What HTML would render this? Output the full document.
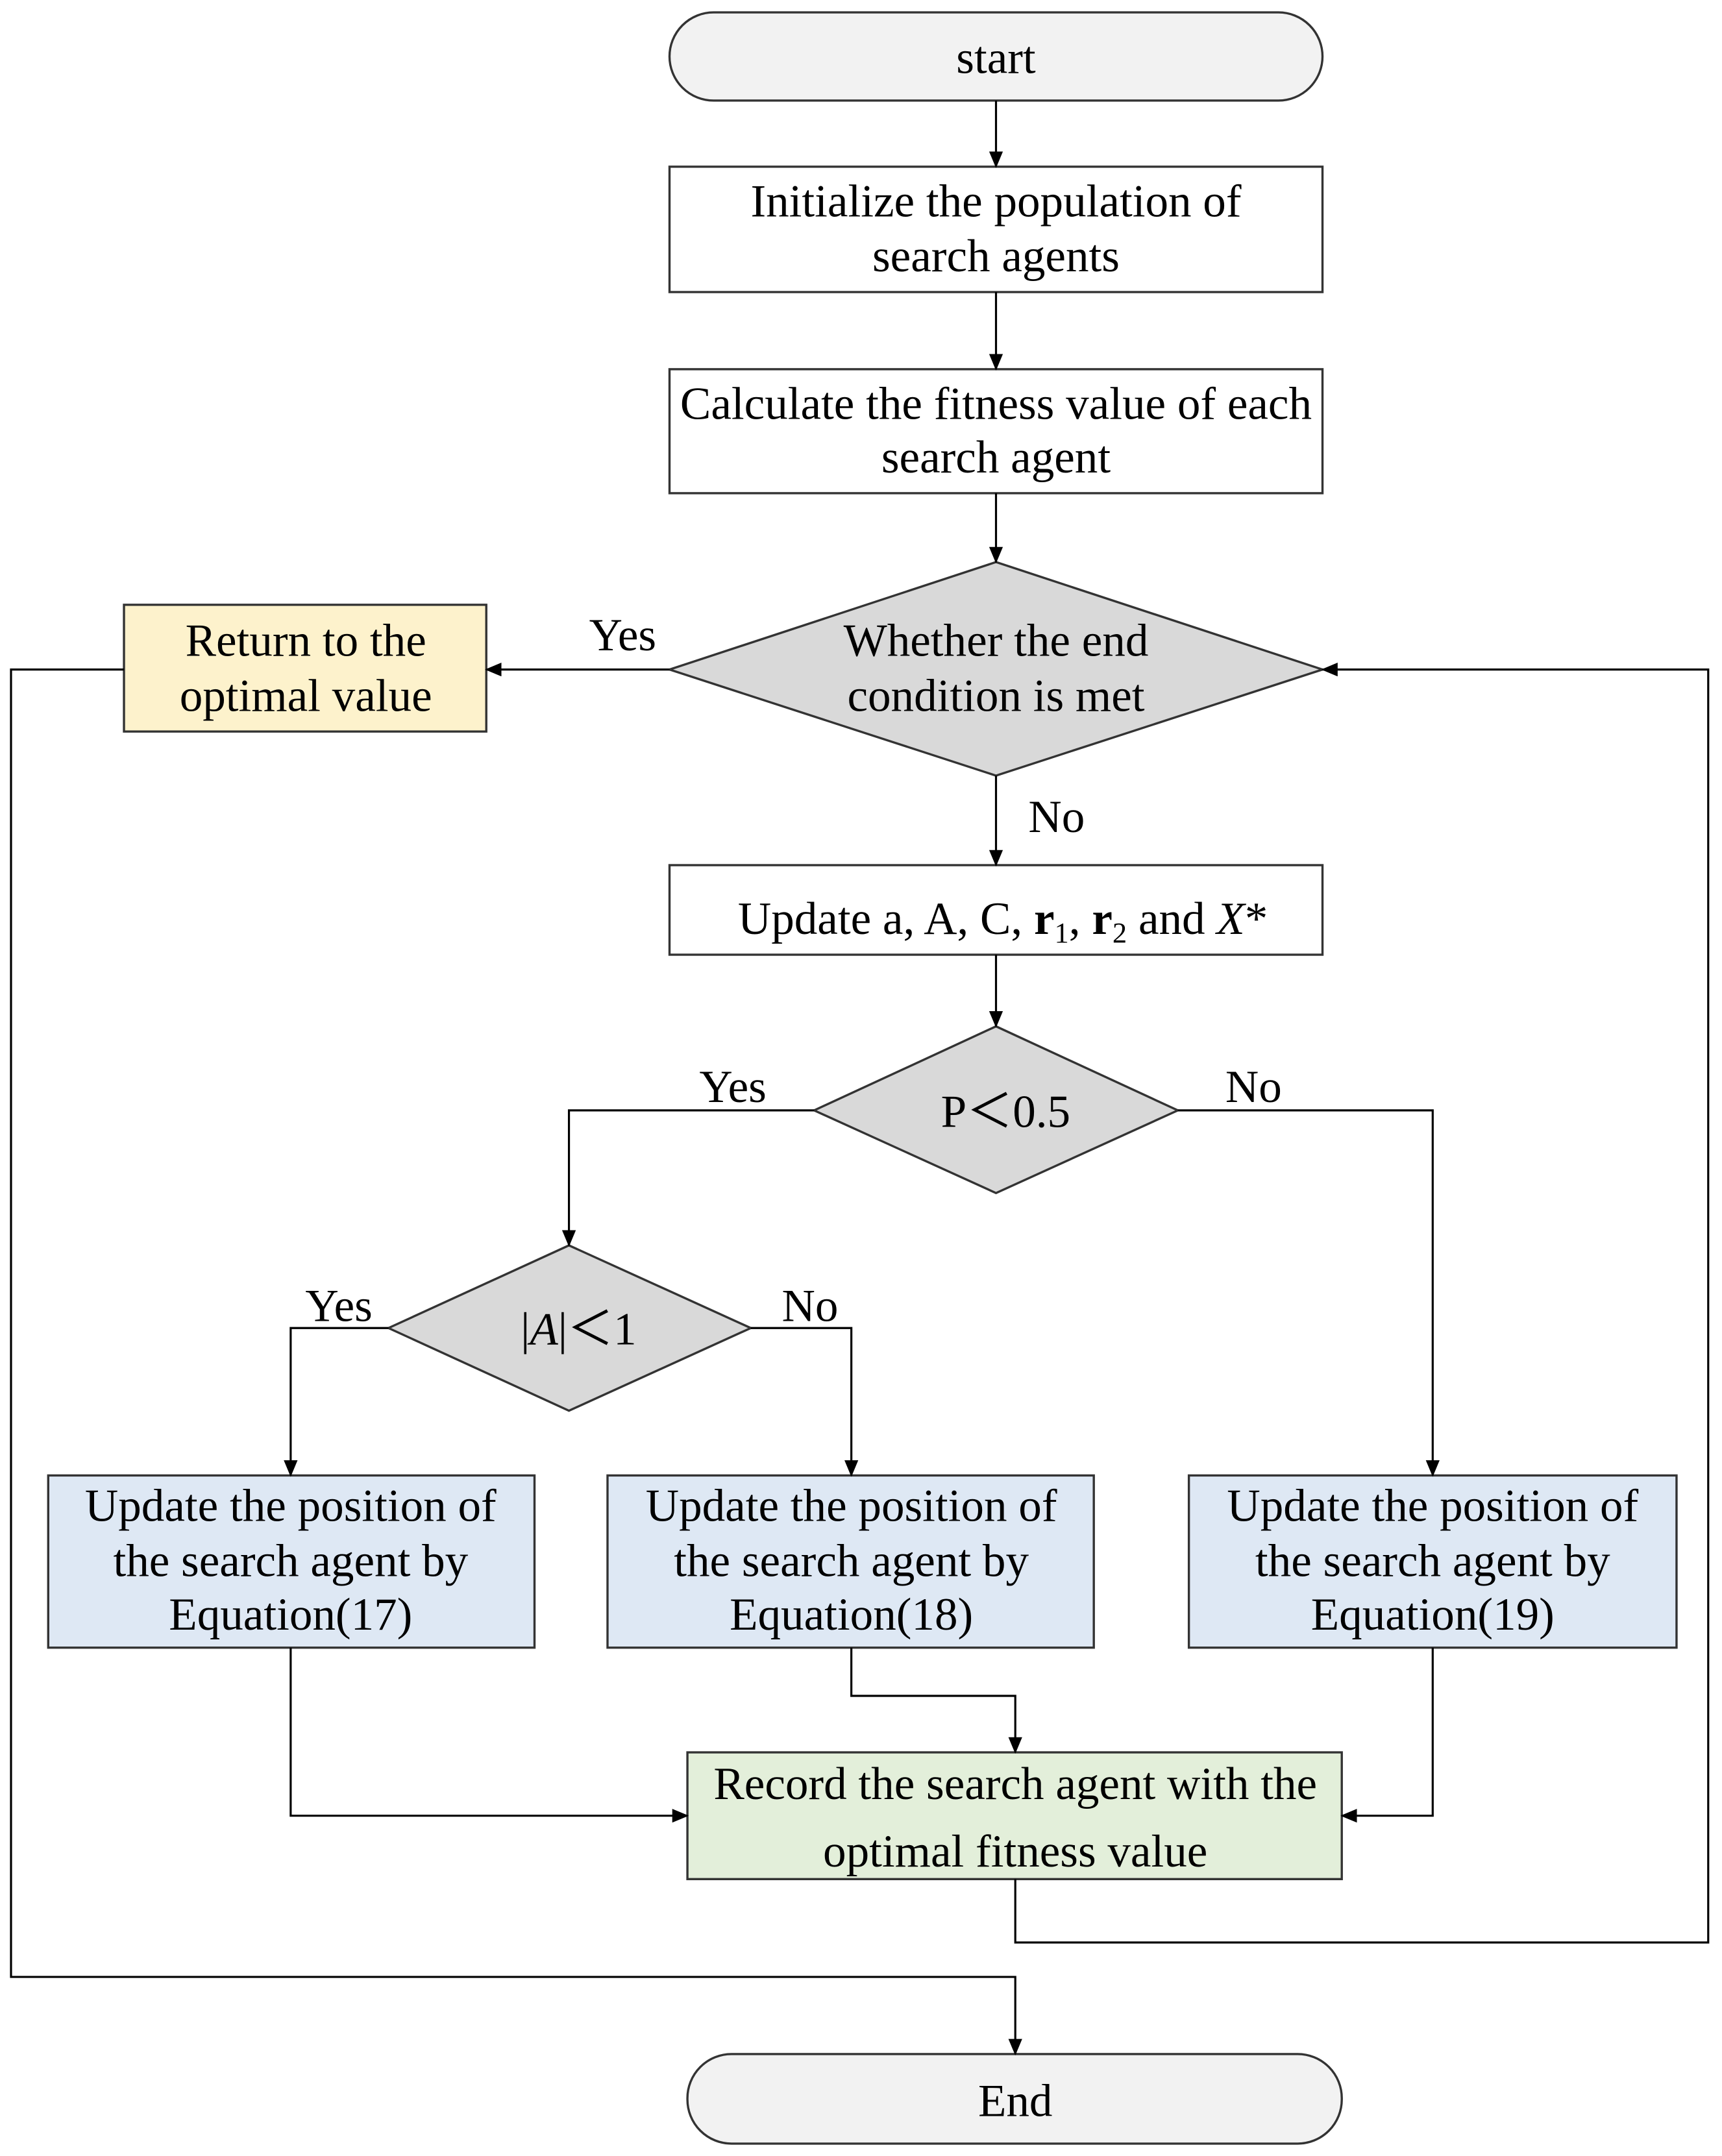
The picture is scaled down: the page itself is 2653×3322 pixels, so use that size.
<!DOCTYPE html>
<html><head><meta charset="utf-8"><style>
html,body{margin:0;padding:0;background:#fff;}
svg{display:block;}
text{font-family:"Liberation Serif",serif;font-size:33.5px;fill:#000;text-anchor:middle;}
</style></head><body>
<svg width="2653" height="3322" viewBox="0 0 1250 1565" preserveAspectRatio="none" xmlns="http://www.w3.org/2000/svg">
<defs><marker id="a" markerWidth="12" markerHeight="10" refX="11" refY="5" orient="auto" markerUnits="userSpaceOnUse"><path d="M0,0 L12,5 L0,10 Z" fill="#000"/></marker></defs>
<g stroke="#333" stroke-width="1.6" fill="none">
<rect x="486" y="9" width="474" height="64" rx="32" fill="#f2f2f2"/>
<rect x="486" y="121" width="474" height="91" fill="#fff"/>
<rect x="486" y="268" width="474" height="90" fill="#fff"/>
<polygon points="486,486 723,408 960,486 723,563" fill="#d9d9d9"/>
<rect x="90" y="439" width="263" height="92" fill="#fdf2cc"/>
<rect x="486" y="628" width="474" height="65" fill="#fff"/>
<polygon points="591,806 723,745 855,806 723,866" fill="#d9d9d9"/>
<polygon points="282,964 413,904 545,964 413,1024" fill="#d9d9d9"/>
<rect x="35" y="1071" width="353" height="125" fill="#dee8f4"/>
<rect x="441" y="1071" width="353" height="125" fill="#dee8f4"/>
<rect x="863" y="1071" width="354" height="125" fill="#dee8f4"/>
<rect x="499" y="1272" width="475" height="92" fill="#e3efda"/>
<rect x="499" y="1491" width="475" height="65" rx="32" fill="#f2f2f2"/>
</g>
<g stroke="#000" stroke-width="1.5" fill="none">
<path d="M723,73 V121" marker-end="url(#a)"/>
<path d="M723,212 V268" marker-end="url(#a)"/>
<path d="M723,358 V408" marker-end="url(#a)"/>
<path d="M486,486 H353" marker-end="url(#a)"/>
<path d="M723,563 V628" marker-end="url(#a)"/>
<path d="M723,693 V745" marker-end="url(#a)"/>
<path d="M591,806 H413 V904" marker-end="url(#a)"/>
<path d="M855,806 H1040 V1071" marker-end="url(#a)"/>
<path d="M282,964 H211 V1071" marker-end="url(#a)"/>
<path d="M545,964 H618 V1071" marker-end="url(#a)"/>
<path d="M211,1196 V1318 H499" marker-end="url(#a)"/>
<path d="M618,1196 V1231 H737 V1272" marker-end="url(#a)"/>
<path d="M1040,1196 V1318 H974" marker-end="url(#a)"/>
<path d="M737,1364 V1410 H1240 V486 H960" marker-end="url(#a)"/>
<path d="M90,486 H8 V1435 H737 V1491" marker-end="url(#a)"/>
</g>
<text x="723" y="53" font-size="34">start</text>
<text x="723" y="157">Initialize the population of</text>
<text x="723" y="197">search agents</text>
<text x="723" y="304">Calculate the fitness value of each</text>
<text x="723" y="343">search agent</text>
<text x="723" y="476">Whether the end</text>
<text x="723" y="516">condition is met</text>
<text x="222" y="476">Return to the</text>
<text x="222" y="516">optimal value</text>
<text x="452" y="472">Yes</text>
<text x="767" y="604">No</text>
<text x="728" y="678">Update a, A, C, <tspan font-weight="bold">r</tspan><tspan font-size="21" dy="6">1</tspan><tspan dy="-6">, </tspan><tspan font-weight="bold">r</tspan><tspan font-size="21" dy="6">2</tspan><tspan dy="-6"> and </tspan><tspan font-style="italic">X</tspan>*</text>
<text x="730" y="818" font-size="37">P＜0.5</text>
<text x="532" y="800">Yes</text>
<text x="910" y="800">No</text>
<text x="420" y="976" font-size="36">|<tspan font-style="italic">A</tspan>|＜1</text>
<text x="246" y="959">Yes</text>
<text x="588" y="959">No</text>
<text x="211" y="1104">Update the position of</text>
<text x="211" y="1144">the search agent by</text>
<text x="211" y="1183">Equation(17)</text>
<text x="618" y="1104">Update the position of</text>
<text x="618" y="1144">the search agent by</text>
<text x="618" y="1183">Equation(18)</text>
<text x="1040" y="1104">Update the position of</text>
<text x="1040" y="1144">the search agent by</text>
<text x="1040" y="1183">Equation(19)</text>
<text x="737" y="1306">Record the search agent with the</text>
<text x="737" y="1355">optimal fitness value</text>
<text x="737" y="1536" font-size="37">End</text>
</svg>
</body></html>
